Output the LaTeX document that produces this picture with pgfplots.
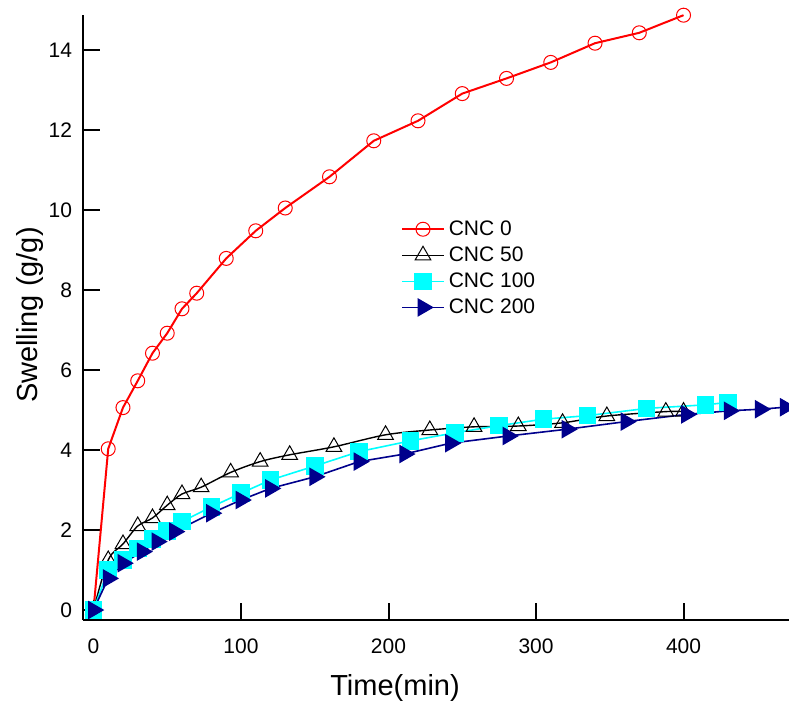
\documentclass[border=0pt]{standalone}
\usepackage{fontspec}
\setmainfont{Liberation Sans}
\usepackage{pgfplots}
\pgfplotsset{compat=1.18}
\usetikzlibrary{calc}
\definecolor{cncred}{RGB}{255,0,0}
\definecolor{cnccyan}{RGB}{0,255,255}
\definecolor{cncnavy}{RGB}{0,0,140}

\begin{document}
\begin{tikzpicture}
\begin{axis}[
name=ax,
scale only axis,width=353pt,height=302.5pt,
xmin=-7.1,xmax=471.5,ymin=-0.25,ymax=14.875,
axis x line*=bottom,axis y line*=left,
axis line style={line width=1pt,-},
tick align=inside,major tick length=8.5pt,
tick style={line width=1pt,black},
xtick={0,100,200,300,400},ytick={0,2,4,6,8,10,12,14},
minor tick num=0,
/pgf/number format/assume math mode=true,
tick label style={font=\fontsize{10.5}{12}\selectfont},
xticklabel style={yshift=-6pt},
yticklabel style={xshift=-2pt},
xlabel={Time(min)},ylabel={Swelling (g/g)},
label style={font=\fontsize{14.5}{17}\selectfont},
xlabel style={at={(axis description cs:0.442,0)},anchor=center,yshift=-34pt},
ylabel style={at={(axis description cs:0,0.504)},anchor=center,yshift=26.5pt},
legend style={draw=none,fill=none,at={(axis cs:207,9.9)},anchor=north west,
  font=\fontsize{10.5}{12}\selectfont,row sep=0.2pt,inner sep=1pt},
legend cell align=left,
legend image code/.code={\draw[mark repeat=2,mark phase=2] plot coordinates {(0cm,0cm)(0.365cm,0cm)(0.73cm,0cm)};},
]
\addplot[cncred,line width=1pt,mark=o,mark size=3.5pt,mark options={line width=0.5pt,solid}] coordinates {
(0,0)(10,4.03)(20,5.06)(30,5.73)(40,6.42)(50,6.92)(60,7.53)(70,7.92)(90,8.79)(110,9.48)
(130,10.05)(160,10.83)(190,11.73)(220,12.23)(250,12.91)(280,13.29)(310,13.69)(340,14.17)(370,14.43)(400,14.87)};
\addlegendentry{CNC 0}
\addplot[black,line width=0.7pt,smooth,mark=triangle,mark size=4.5pt,mark options={line width=0.5pt,solid}] coordinates {
(0,0)(10,1.25)(20,1.65)(30,2.1)(40,2.3)(50,2.62)(60,2.9)(73,3.07)(93,3.44)(113,3.71)
(133,3.88)(163,4.08)(198,4.38)(228,4.5)(258,4.58)(288,4.6)(318,4.68)(348,4.85)(388,4.96)(400,4.96)};
\addlegendentry{CNC 50}
\addplot[cnccyan,line width=0.8pt,mark=square*,mark size=4pt,mark options={draw=none,fill=cnccyan}] coordinates {
(0,0)(10,1.0)(20,1.25)(30,1.54)(40,1.77)(50,1.98)(60,2.21)(80,2.58)(100,2.92)(120,3.25)
(150,3.6)(180,3.96)(215,4.23)(245,4.43)(275,4.61)(305,4.77)(335,4.86)(375,5.04)(415,5.13)(430,5.19)};
\addlegendentry{CNC 100}
\addplot[cncnavy,line width=0.8pt,mark=triangle*,mark size=4.6pt,mark options={rotate=-90,draw=none,fill=cncnavy}] coordinates {
(0,0)(10,0.79)(20,1.17)(33,1.46)(43,1.71)(55,1.96)(80,2.42)(100,2.75)(120,3.04)(150,3.33)
(180,3.71)(211,3.9)(242,4.17)(281,4.35)(321,4.52)(361,4.71)(402,4.89)(431,4.98)(452,5.02)(469,5.07)};
\addlegendentry{CNC 200}
\end{axis}
\pgfresetboundingbox
\path[use as bounding box] ($(ax.south west)+(-41.5pt,-41.5pt)$) rectangle ($(ax.north east)+(0pt,7.5pt)$);
\end{tikzpicture}
\end{document}
